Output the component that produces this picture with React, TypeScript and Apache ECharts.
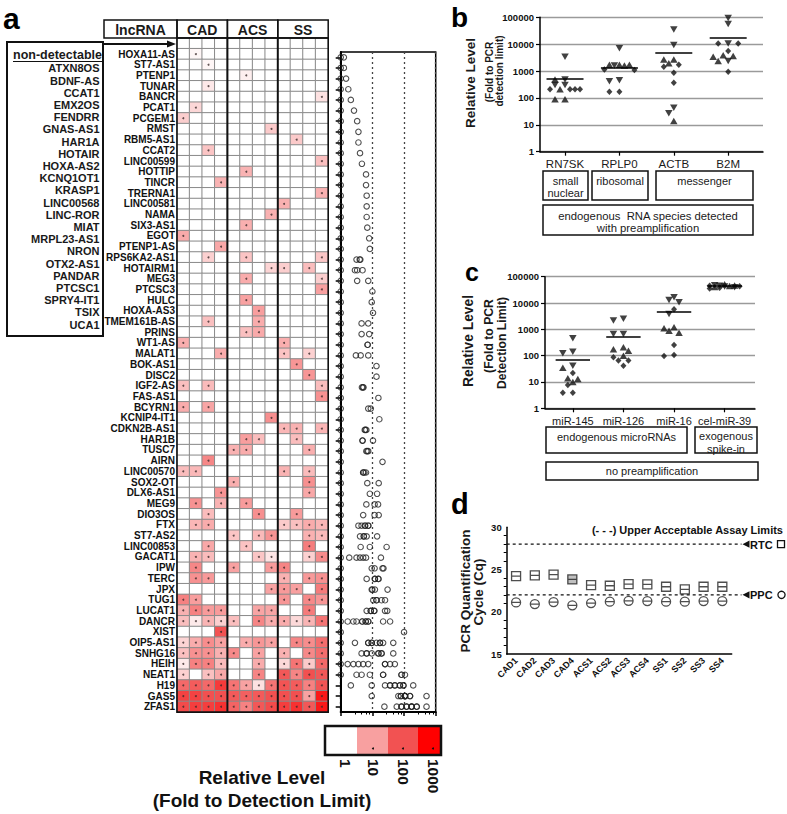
import { useEffect, useRef } from 'react';
import * as echarts from 'echarts';

const FONT = '"Liberation Sans", Arial, Helvetica, sans-serif';

// ---------------- Panel a data ----------------
const samples = ['CAD1', 'CAD2', 'CAD3', 'CAD4', 'ACS1', 'ACS2', 'ACS3', 'ACS4', 'SS1', 'SS2', 'SS3', 'SS4'];
const groups = ['CAD', 'ACS', 'SS'];
const nonDetectable = ['ATXN8OS', 'BDNF-AS', 'CCAT1', 'EMX2OS', 'FENDRR', 'GNAS-AS1', 'HAR1A', 'HOTAIR', 'HOXA-AS2',
  'KCNQ1OT1', 'KRASP1', 'LINC00568', 'LINC-ROR', 'MIAT', 'MRPL23-AS1', 'NRON', 'OTX2-AS1', 'PANDAR', 'PTCSC1',
  'SPRY4-IT1', 'TSIX', 'UCA1'];
const lncRNAs = ['HOXA11-AS', 'ST7-AS1', 'PTENP1', 'TUNAR', 'BANCR', 'PCAT1', 'PCGEM1', 'RMST', 'RBM5-AS1', 'CCAT2',
  'LINC00599', 'HOTTIP', 'TINCR', 'TRERNA1', 'LINC00581', 'NAMA', 'SIX3-AS1', 'EGOT', 'PTENP1-AS', 'RPS6KA2-AS1',
  'HOTAIRM1', 'MEG3', 'PTCSC3', 'HULC', 'HOXA-AS3', 'TMEM161B-AS', 'PRINS', 'WT1-AS', 'MALAT1', 'BOK-AS1', 'DISC2',
  'IGF2-AS', 'FAS-AS1', 'BCYRN1', 'KCNIP4-IT1', 'CDKN2B-AS1', 'HAR1B', 'TUSC7', 'AIRN', 'LINC00570', 'SOX2-OT',
  'DLX6-AS1', 'MEG9', 'DIO3OS', 'FTX', 'ST7-AS2', 'LINC00853', 'GACAT1', 'IPW', 'TERC', 'JPX', 'TUG1', 'LUCAT1',
  'DANCR', 'XIST', 'OIP5-AS1', 'SNHG16', 'HEIH', 'NEAT1', 'H19', 'GAS5', 'ZFAS1'];
// log10 of relative level (fold to detection limit); 0 = non-detectable
const log10Levels = [
  [0, 0.10, 0, 0, 0, 0, 0, 0, 0, 0, 0, 0],
  [0, 0, 0.10, 0, 0, 0, 0, 0, 0, 0, 0, 0],
  [0, 0, 0, 0, 0, 0.17, 0, 0, 0, 0, 0, 0],
  [0, 0, 0.24, 0, 0, 0, 0, 0, 0, 0, 0, 0],
  [0, 0, 0, 0, 0, 0, 0, 0, 0, 0, 0, 0.32],
  [0, 0.42, 0, 0, 0, 0, 0, 0, 0, 0, 0, 0],
  [0.52, 0, 0, 0, 0, 0, 0, 0, 0, 0, 0, 0],
  [0, 0, 0, 0, 0, 0, 0, 0.56, 0, 0, 0, 0],
  [0, 0, 0, 0, 0, 0, 0, 0, 0, 0.56, 0, 0],
  [0, 0, 0.61, 0, 0, 0, 0, 0, 0, 0, 0, 0],
  [0, 0, 0, 0, 0, 0, 0, 0, 0, 0, 0, 0.67],
  [0, 0, 0, 0, 0, 0.80, 0, 0, 0, 0, 0, 0],
  [0, 0, 0, 0.80, 0, 0, 0, 0, 0, 0, 0, 0],
  [0, 0, 0, 0, 0, 0, 0, 0, 0, 0, 0, 0.82],
  [0, 0, 0, 0, 0, 0, 0, 0, 0.82, 0, 0, 0],
  [0, 0, 0, 0, 0, 0, 0, 0.82, 0, 0, 0, 0],
  [0, 0, 0, 0, 0, 0.84, 0, 0, 0, 0, 0, 0],
  [0.90, 0, 0, 0, 0, 0, 0, 0, 0, 0, 0, 0],
  [0, 0, 0, 0.92, 0, 0, 0, 0, 0, 0, 0, 0],
  [0, 0, 0.50, 0, 0, 0.62, 0, 0, 0, 0, 0, 0.60],
  [0, 0, 0, 0, 0, 0, 0, 0.45, 0.52, 0, 0.69, 0],
  [0, 0, 0, 0, 0, 0.87, 0, 0, 0, 0, 0, 0.52],
  [0, 0, 0, 0, 0, 0, 0, 0, 0, 0, 0, 1.00],
  [0, 0, 0, 0, 0, 0.98, 0, 0, 0, 0, 0, 0],
  [0, 0, 0, 0, 0, 0, 1.02, 0, 0, 0, 0, 0],
  [0, 0, 0.66, 0, 0, 0, 0.87, 0, 0, 0, 0, 0],
  [0, 0, 0, 0, 0, 0.66, 0.90, 0, 0, 0, 0, 0],
  [0.85, 0, 0, 0, 0, 0, 0, 0, 0.85, 0, 0, 0],
  [0, 0, 0, 0.87, 0, 0, 0, 0, 0.63, 0, 0.48, 0],
  [0, 0, 0, 0, 0, 0, 0, 0, 0, 1.13, 0, 0],
  [0, 0, 0, 0, 0, 0, 0, 0, 0, 0, 1.13, 0],
  [0.67, 0, 0.72, 0, 0, 0, 0, 0, 0, 0, 0, 0.70],
  [0, 0, 0, 0, 0, 0, 0, 0, 0, 0, 0, 1.19],
  [0.87, 0, 0.95, 0, 0, 0, 0, 0, 0, 0, 0, 0],
  [0, 0, 0, 0, 0, 0, 0, 1.22, 0, 0, 0, 0],
  [0, 0, 0, 0, 0, 0, 0, 0, 0.76, 0.81, 0, 0.78],
  [0, 0, 0, 0, 0, 1.02, 0.69, 0, 0, 0.69, 0, 0],
  [0, 0, 0, 0, 0.81, 0.87, 0, 0, 0, 0, 0.84, 0],
  [0, 0, 1.32, 0, 0, 0, 0, 0, 0, 0, 0, 0],
  [0.71, 0.75, 0, 0, 0, 0, 0, 0, 0.80, 0, 0.71, 0],
  [0, 0, 0, 0, 0.84, 0, 0, 0, 0, 0, 1.20, 0],
  [0, 0, 0, 1.15, 0, 0, 0, 0, 0, 0, 0.92, 0],
  [0, 1.18, 0, 0.81, 0, 1.07, 0, 0, 0, 0, 0, 0],
  [0, 0, 0.71, 0, 0, 0, 1.20, 0, 0, 1.07, 0, 0],
  [0, 0.77, 0.87, 0, 0, 0, 0, 0, 0.56, 0.66, 0.87, 0.77],
  [0, 0, 0, 0, 0.61, 0, 0.73, 1.15, 0, 0, 0.82, 0.73],
  [0, 0, 0.92, 0, 0, 0.63, 0, 0, 0, 0, 1.45, 0],
  [0, 0.80, 0.71, 0, 0, 0, 0.61, 0.27, 0, 0, 0.50, 1.27],
  [0, 1.32, 0, 0, 0.98, 0, 0, 1.07, 1.35, 0, 0, 0],
  [0, 1.19, 1.08, 0, 0, 0, 0, 0, 0.82, 0, 1.08, 1.19],
  [0, 0, 0, 0, 0, 0, 0, 0.98, 1.08, 1.00, 0, 1.48],
  [1.40, 1.03, 0, 0, 0, 0, 0, 0, 1.13, 0, 1.29, 1.13],
  [0.82, 1.40, 1.06, 1.06, 0, 0, 0.95, 0.95, 0, 0, 1.47, 0],
  [0.68, 0.22, 0.79, 0.50, 0.68, 0, 1.34, 0.87, 0.87, 0.40, 0.79, 1.56],
  [0, 0, 0, 2.00, 0, 0, 0, 0, 0, 0, 0, 0],
  [0.45, 0.87, 1.24, 0.98, 0, 0.87, 1.13, 0.98, 0, 1.34, 1.24, 1.66],
  [0.66, 1.19, 1.19, 0.82, 1.29, 0, 0.98, 0, 0.82, 0, 1.29, 1.66],
  [0.22, 1.40, 1.40, 0.71, 0, 0, 0.87, 0, 0.40, 1.56, 0.56, 1.71],
  [0.50, 0, 0.66, 0.92, 0, 0, 1.34, 0, 1.92, 1.34, 2.03, 1.92],
  [1.71, 1.87, 1.71, 2.29, 1.56, 0.98, 0.32, 1.56, 1.98, 1.87, 1.40, 1.98],
  [2.19, 2.19, 2.03, 2.03, 1.90, 1.82, 1.90, 2.03, 2.03, 2.03, 0.98, 2.71],
  [2.08, 2.24, 2.24, 2.40, 1.77, 1.38, 1.92, 2.08, 2.24, 2.40, 1.92, 2.71],
];
const legendTickLabels = ['1', '10', '100', '1000'];
const levelColors = ['#ffffff', '#f8a0a0', '#f25252', '#ff0000'];

// ---------------- Panel b data ----------------
const bCategories = ['RN7SK', 'RPLP0', 'ACTB', 'B2M'];
const bDownTriangles = [[3400, 490, 300, 300], [7000, 1600, 460, 420], [35000, 9300, 43, 27], [95000, 56000, 10700, 2350]];
const bUpTriangles = [[490, 89, 89, 210], [1700, 1700, 1600, 1700], [2700, 2700, 1950, 14], [3400, 3600, 3900, 2350]];
const bDiamonds = [[210, 210, 210, 210], [1100, 1150, 170, 170], [1440, 1700, 870, 370], [10700, 10700, 5600, 940]];
const bMeans = [520, 1380, 4800, 17400];

// ---------------- Panel c data ----------------
const cCategories = ['miR-145', 'miR-126', 'miR-16', 'cel-miR-39'];
const cDownTriangles = [[460, 142, 123, 41], [2150, 2500, 670, 670], [16600, 10700, 13100, 3850], [42000, 45000, 40000, 47000]];
const cUpTriangles = [[35, 13, 10, 14], [175, 210, 155, 100], [1100, 1200, 890, 750], [52000, 44000, 46000, 41000]];
const cDiamonds = [[22, 7.7, 3.9, 3.9], [87, 65, 65, 41], [5800, 255, 98, 107], [38000, 43000, 36000, 45000]];
const cMeans = [69, 530, 4700, 44000];

// ---------------- Panel d data ----------------
const dRTC = [24.23, 24.31, 24.39, 23.83, 23.16, 23.08, 23.28, 23.24, 22.96, 22.65, 22.96, 22.96];
const dPPC = [21.11, 20.91, 21.15, 20.76, 21.03, 21.19, 21.30, 21.26, 21.19, 21.19, 21.26, 21.26];
const dLimits = [28, 22];
const dLimitNames = ['RTC', 'PPC'];

// ---------------- layout ----------------
const HM = { left: 177, top: 38, cellW: 12.6, rowH: 10.7 };
const HM_ROWS = lncRNAs.length + 1;
const HM_W = HM.cellW * samples.length;
const HM_H = HM.rowH * HM_ROWS;
const DP = { left: 340.7, top: 52, width: 95, height: 660 };
const GB = { left: 540, top: 17.3, width: 223, height: 134.4, min: -0.46, max: 3.64 };
const GC = { left: 545, top: 276.7, width: 210, height: 131.6, min: -0.55, max: 3.6 };
const GD = { left: 506.7, top: 527.3, width: 225, height: 126.7 };

function swarmOffsets(vals: number[], pxPerDecade: number, pxPerUnit: number): number[] {
  const D = 5.5, step = 5, maxK = 3;
  const order = vals.map((_, i) => i).sort((a, b) => vals[b] - vals[a]);
  const placed: { x: number; y: number }[] = [];
  const out = new Array(vals.length).fill(0);
  const cands = [0];
  for (let k = 1; k <= maxK; k++) cands.push(-k * step, k * step);
  for (const i of order) {
    const y = Math.log10(vals[i]) * pxPerDecade;
    let best = 0, bestD = -1;
    for (const x of cands) {
      let md = Infinity;
      for (const p of placed) md = Math.min(md, Math.hypot(p.x - x, p.y - y));
      if (md >= D) { best = x; break; }
      if (md > bestD) { bestD = md; best = x; }
    }
    placed.push({ x: best, y });
    out[i] = best / pxPerUnit;
  }
  return out;
}

function swarmSeries(down: number[][], up: number[][], dia: number[][], g: any) {
  const pxDec = g.height / 5;
  const pxUnit = g.width / (g.max - g.min);
  const res: number[][][] = [[], [], []];
  for (let i = 0; i < down.length; i++) {
    const all = [...down[i], ...up[i], ...dia[i]];
    const off = swarmOffsets(all, pxDec, pxUnit);
    let k = 0;
    [down[i], up[i], dia[i]].forEach((arr, s) => {
      arr.forEach((v) => { res[s].push([i + off[k], v]); k++; });
    });
  }
  return res;
}

function logAxisY(gridIndex: number) {
  return {
    gridIndex, type: 'log', logBase: 10, min: 1, max: 100000,
    axisLine: { show: true, onZero: false, lineStyle: { color: '#000', width: 1.5 } },
    axisTick: { show: true, length: 4, lineStyle: { color: '#000', width: 1.2 } },
    axisLabel: { fontSize: 9.5, fontWeight: 'bold', color: '#111', margin: 6, formatter: (v: number) => String(Math.round(v)) },
    splitLine: { show: true, lineStyle: { color: '#9a9a9a', width: 1.3 } },
  };
}
function catValueAxisX(gridIndex: number, g: any, names: string[], fontSize: number, margin: number) {
  return {
    gridIndex, type: 'value', min: g.min, max: g.max,
    axisLine: { show: true, onZero: false, lineStyle: { color: '#000', width: 1.5 } },
    axisTick: { show: true, customValues: [0, 1, 2, 3], length: 4, lineStyle: { color: '#000', width: 1.2 } },
    axisLabel: { customValues: [0, 1, 2, 3], formatter: (v: number) => names[Math.round(v)] ?? '', fontSize, color: '#1a1a1a', margin },
    splitLine: { show: false },
  };
}
function markerSeries(data: number[][][], xi: number, means: number[]) {
  const base = { type: 'scatter', xAxisIndex: xi, yAxisIndex: xi, itemStyle: { color: '#111' }, silent: true, clip: false };
  return [
    { ...base, data: data[0], symbol: 'triangle', symbolRotate: 180, symbolSize: [7.5, 6.5],
      markLine: { silent: true, symbol: ['none', 'none'], label: { show: false },
        lineStyle: { color: '#000', width: 1.6, type: 'solid' },
        data: means.map((m, i) => [{ coord: [i - 0.34, m] }, { coord: [i + 0.34, m] }]) } },
    { ...base, data: data[1], symbol: 'triangle', symbolSize: [7.5, 6.5] },
    { ...base, data: data[2], symbol: 'diamond', symbolSize: [6, 6.5] },
  ];
}

function buildOption() {
  const heatData: number[][] = [];
  const cellDots: number[][] = [];
  for (let r = 0; r < HM_ROWS; r++) {
    for (let c = 0; c < samples.length; c++) {
      const v = r === 0 ? 0 : log10Levels[r - 1][c];
      heatData.push([c, r, v]);
      if (v > 0) cellDots.push([c, r]);
    }
  }
  const dotData: number[][] = [];
  log10Levels.forEach((row, r) => {
    if (row.some((v) => v === 0)) dotData.push([1, r]);
    row.forEach((v) => { if (v > 0) dotData.push([Math.pow(10, v), r]); });
  });
  const bData = swarmSeries(bDownTriangles, bUpTriangles, bDiamonds, GB);
  const cData = swarmSeries(cDownTriangles, cUpTriangles, cDiamonds, GC);
  const sqSym = 'path://M0,0L10,0L10,10L0,10ZM0,5L10,5';
  const ciSym = 'path://M0,5A5,5,0,1,1,10,5A5,5,0,1,1,0,5ZM0,5L10,5';

  return {
    animation: false,
    backgroundColor: '#ffffff',
    textStyle: { fontFamily: FONT },
    grid: [
      { left: HM.left, top: HM.top, width: HM_W, height: HM_H },
      { left: DP.left, top: DP.top, width: DP.width, height: DP.height, show: true, borderColor: '#000', borderWidth: 1.5 },
      { left: GB.left, top: GB.top, width: GB.width, height: GB.height },
      { left: GC.left, top: GC.top, width: GC.width, height: GC.height },
      { left: GD.left, top: GD.top, width: GD.width, height: GD.height },
    ],
    visualMap: { type: 'continuous', show: false, seriesIndex: 0, dimension: 2, min: 0, max: 3, inRange: { color: levelColors } },
    xAxis: [
      { gridIndex: 0, type: 'category', data: samples, show: false },
      {
        gridIndex: 1, type: 'log', logBase: 10, min: 1, max: 1000,
        axisLine: { show: true, lineStyle: { color: '#000', width: 2 } },
        axisTick: { show: true, length: 4, lineStyle: { color: '#000', width: 1.5 } },
        minorTick: { show: true, splitNumber: 5, length: 2.5, lineStyle: { color: '#000', width: 1 } },
        axisLabel: { show: false },
        splitLine: { show: true, lineStyle: { type: [2, 3], color: '#444', width: 1.3 } },
      },
      catValueAxisX(2, GB, bCategories, 11.5, 6),
      catValueAxisX(3, GC, cCategories, 11, 7),
      {
        gridIndex: 4, type: 'category', data: samples, boundaryGap: true,
        axisLine: { lineStyle: { color: '#000', width: 1.5 } },
        axisTick: { alignWithLabel: true, length: 4, lineStyle: { color: '#000' } },
        axisLabel: { interval: 0, rotate: 45, fontSize: 9, fontWeight: 'bold', color: '#111', margin: 5 },
      },
    ],
    yAxis: [
      {
        gridIndex: 0, type: 'category', data: ['', ...lncRNAs], inverse: true,
        axisLine: { show: false }, axisTick: { show: false },
        axisLabel: { interval: 0, fontSize: 10, fontWeight: 'bold', color: '#111', margin: 2 },
      },
      {
        gridIndex: 1, type: 'category', data: lncRNAs, inverse: true,
        axisLine: { show: true, onZero: false, lineStyle: { color: '#000', width: 2 } },
        axisTick: { show: true, interval: 0, alignWithLabel: true, length: 5, lineStyle: { color: '#000', width: 1.5 } },
        axisLabel: { show: false },
      },
      logAxisY(2),
      logAxisY(3),
      {
        gridIndex: 4, type: 'value', min: 15, max: 30, interval: 5,
        axisLine: { show: true, onZero: false, lineStyle: { color: '#000', width: 1.5 } },
        axisTick: { length: 5, lineStyle: { color: '#000' } },
        minorTick: { show: true, splitNumber: 5, length: 3, lineStyle: { color: '#000' } },
        axisLabel: { fontSize: 9.5, fontWeight: 'bold', color: '#111', margin: 5 },
        splitLine: { show: false },
      },
    ],
    series: [
      {
        type: 'heatmap', xAxisIndex: 0, yAxisIndex: 0, data: heatData, silent: true,
        emphasis: { disabled: true },
        itemStyle: { borderColor: '#8a8a8a', borderWidth: 1 },
      },
      {
        type: 'scatter', xAxisIndex: 0, yAxisIndex: 0, data: cellDots, symbolSize: 2,
        itemStyle: { color: '#3a2a2a' }, silent: true,
      },
      {
        type: 'scatter', xAxisIndex: 1, yAxisIndex: 1, data: dotData, symbol: 'circle', symbolSize: 5.5, clip: false,
        itemStyle: { color: 'rgba(255,255,255,0)', borderColor: '#222', borderWidth: 1.1 }, silent: true,
      },
      ...markerSeries(bData, 2, bMeans),
      ...markerSeries(cData, 3, cMeans),
      {
        type: 'scatter', xAxisIndex: 4, yAxisIndex: 4, silent: true, symbol: sqSym, symbolSize: 9,
        data: dRTC.map((v, i) => (i === 3 ? { value: [i, v], itemStyle: { color: '#b0b0b0' } } : [i, v])),
        itemStyle: { color: '#ffffff', borderColor: '#222', borderWidth: 1.3 },
      },
      {
        type: 'scatter', xAxisIndex: 4, yAxisIndex: 4, silent: true, symbol: ciSym, symbolSize: 9,
        data: dPPC.map((v, i) => [i, v]),
        itemStyle: { color: '#ffffff', borderColor: '#222', borderWidth: 1.3 },
      },
    ],
  };
}

function buildGraphics(chart: any) {
  const g: any[] = [];
  const text = (x: number, y: number, s: string, size: number, o: any = {}) =>
    g.push({
      type: 'text', x, y, rotation: o.rot || 0, z: 100, silent: true,
      style: {
        text: s, fontFamily: o.font || FONT, fontSize: size, fontWeight: o.weight || 'normal', fill: o.color || '#1a1a1a',
        align: o.align || 'center', verticalAlign: o.va || 'middle',
      },
    });
  const rect = (x: number, y: number, w: number, h: number, lw = 1.5, fill = 'none') =>
    g.push({ type: 'rect', z: 100, silent: true, shape: { x, y, width: w, height: h }, style: { fill, stroke: '#111', lineWidth: lw } });
  const line = (x1: number, y1: number, x2: number, y2: number, lw = 1.5, dash?: number[]) =>
    g.push({ type: 'line', z: 100, silent: true, shape: { x1, y1, x2, y2 }, style: { stroke: '#111', lineWidth: lw, lineDash: dash } });

  // ---- panel letters
  text(3, 33, 'a', 30, { weight: 'bold', align: 'left', va: 'bottom', color: '#000' });
  text(451, 31, 'b', 28, { weight: 'bold', align: 'left', va: 'bottom', color: '#000' });
  text(465, 284, 'c', 25, { weight: 'bold', align: 'left', va: 'bottom', color: '#000' });
  text(451, 518, 'd', 29, { weight: 'bold', align: 'left', va: 'bottom', color: '#000' });

  // ---- panel a header
  const hTop = 20, hH = HM.top - hTop;
  rect(104, hTop, HM.left - 104, hH);
  text((104 + HM.left) / 2, hTop + hH / 2 + 0.5, 'lncRNA', 14, { weight: 'bold' });
  groups.forEach((gr, i) => {
    const x0 = HM.left + i * 4 * HM.cellW;
    rect(x0, hTop, 4 * HM.cellW, hH);
    text(x0 + 2 * HM.cellW, hTop + hH / 2 + 0.5, gr, 14, { weight: 'bold' });
  });
  rect(HM.left, HM.top, HM_W, HM_H, 1.6);
  for (let i = 1; i < groups.length; i++) {
    const x = HM.left + i * 4 * HM.cellW;
    line(x, HM.top, x, HM.top + HM_H, 2);
  }

  // ---- non-detectable box
  rect(7, 42, 96, 294, 2);
  text(57.5, 55, 'non-detectable', 12.5, { weight: 'bold' });
  line(13, 61.5, 102, 61.5, 1.2);
  nonDetectable.forEach((n, i) => text(99.5, 68.3 + 12.2 * i, n, 11, { weight: 'bold', align: 'right' }));
  // arrow
  line(103, 44, 169, 44, 2.2);
  g.push({ type: 'polygon', z: 100, silent: true, shape: { points: [[167, 40.5], [176, 44], [167, 47.5]] }, style: { fill: '#111' } });

  // ---- colour legend
  const lx = [325, 357, 388, 418, 441];
  for (let i = 0; i < 4; i++) {
    g.push({ type: 'rect', z: 100, silent: true, shape: { x: lx[i], y: 726, width: lx[i + 1] - lx[i], height: 29 }, style: { fill: levelColors[i], stroke: 'none' } });
  }
  rect(325, 726, 116, 29, 2.5);
  const labX = [345, 373, 403, 433];
  labX.forEach((x, i) => {
    if (i > 0) g.push({ type: 'circle', z: 101, silent: true, shape: { cx: x, cy: 748.5, r: 1 }, style: { fill: '#111' } });
    text(x, 759, legendTickLabels[i], 15.5, { weight: 'bold', align: 'left', rot: -Math.PI / 2, color: '#111' });
  });
  text(262, 777, 'Relative Level', 19, { weight: 'bold', color: '#111' });
  text(262, 800, '(Fold to Detection Limit)', 19, { weight: 'bold', color: '#111' });

  // ---- panel b
  text(470, 83, 'Relative Level', 13.5, { weight: 'bold', rot: Math.PI / 2 });
  text(489.5, 72, '(Fold to PCR', 10, { weight: 'bold', rot: Math.PI / 2 });
  text(499.5, 71, 'detection limit)', 10, { weight: 'bold', rot: Math.PI / 2 });
  rect(543, 171, 45, 29);
  rect(592, 171, 56, 29);
  rect(656, 171, 97, 29);
  rect(543, 205, 210, 30);
  text(565.5, 180.5, 'small', 11);
  text(565.5, 192.5, 'nuclear', 11);
  text(620, 181, 'ribosomal', 11);
  text(704.5, 181, 'messenger', 11);
  text(648, 215.5, 'endogenous  RNA species detected', 11.3);
  text(648, 228, 'with preamplification', 11.3);

  // ---- panel c
  text(468.5, 341, 'Relative Level', 13.8, { weight: 'bold', rot: Math.PI / 2 });
  text(488.5, 336, '(Fold to PCR', 12.2, { weight: 'bold', rot: Math.PI / 2 });
  text(501.5, 343, 'Detection Limit)', 12.2, { weight: 'bold', rot: Math.PI / 2 });
  rect(546, 427, 141, 26);
  rect(695, 427, 62, 26);
  rect(546, 462, 212, 18);
  text(616.5, 437, 'endogenous microRNAs', 11);
  text(726, 436, 'exogenous', 11);
  text(726, 448.5, 'spike-in', 11);
  text(652, 471, 'no preamplification', 11);

  // ---- panel d
  text(465, 591, 'PCR Quantification', 13.5, { weight: 'bold', rot: Math.PI / 2 });
  text(478.5, 592, 'Cycle (Cq)', 13.5, { weight: 'bold', rot: Math.PI / 2 });
  text(783, 529.5, '(- - -) Upper Acceptable Assay Limits', 11, { weight: 'bold', align: 'right', color: '#111' });
  dLimits.forEach((lim, i) => {
    const p = chart.convertToPixel({ xAxisIndex: 4, yAxisIndex: 4 }, [0, lim]);
    const y = p[1];
    line(GD.left, y, 741.5, y, 1.3, [3, 3]);
    g.push({ type: 'polygon', z: 100, silent: true, shape: { points: [[742.5, y], [749.5, y - 3.6], [749.5, y + 3.6]] }, style: { fill: '#111' } });
    text(750, y + 0.5, dLimitNames[i], 11, { weight: 'bold', align: 'left', color: '#111' });
    if (i === 0) {
      g.push({ type: 'rect', z: 100, silent: true, shape: { x: 777.5, y: y - 3.5, width: 7, height: 7 }, style: { fill: 'none', stroke: '#111', lineWidth: 1.3 } });
    } else {
      g.push({ type: 'circle', z: 100, silent: true, shape: { cx: 781.5, cy: y, r: 3.6 }, style: { fill: 'none', stroke: '#111', lineWidth: 1.3 } });
    }
  });
  return g;
}

export default function App() {
  const ref = useRef<HTMLDivElement>(null);
  useEffect(() => {
    const chart = echarts.init(ref.current as HTMLDivElement, null, { renderer: 'svg' });
    chart.setOption(buildOption() as any);
    chart.setOption({ graphic: { elements: buildGraphics(chart) } } as any);
    return () => chart.dispose();
  }, []);
  return <div ref={ref} style={{ position: 'absolute', left: 0, top: 0, width: 787, height: 814, background: '#fff' }} />;
}
